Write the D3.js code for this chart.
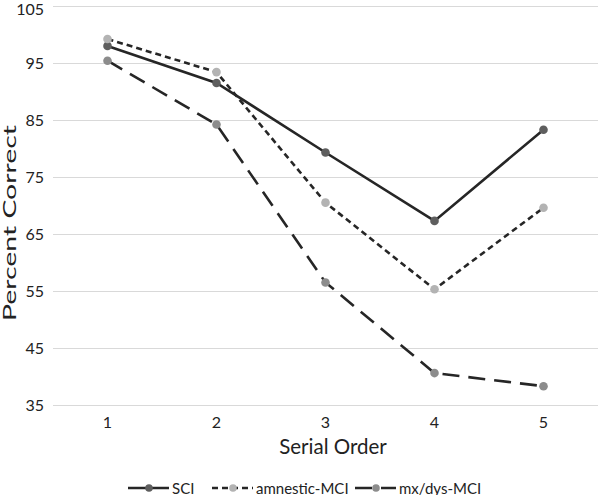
<!DOCTYPE html>
<html>
<head>
<meta charset="UTF-8">
<script src="https://d3js.org/d3.v7.min.js"></script>
<style>
  body { margin: 0; background: #fff; }
  text { font-family: Lato, "Open Sans", sans-serif; fill: #222; }
</style>
</head>
<body>
<svg id="chart"></svg>
<script>
  // data
  const orders = [1, 2, 3, 4, 5];
  const sci = [98.0, 91.5, 79.3, 67.3, 83.3];
  const amnestic = [99.2, 93.4, 70.5, 55.3, 69.6];
  const mxdys = [95.4, 84.2, 56.5, 40.6, 38.3];
  const yTicks = [35, 45, 55, 65, 75, 85, 95, 105];

  const series = [
    { name: "SCI", values: sci, dash: null, marker: "#5e5e5e" },
    { name: "amnestic-MCI", values: amnestic, dash: "6,4", marker: "#b3b3b3" },
    { name: "mx/dys-MCI", values: mxdys, dash: "17,9", marker: "#8c8c8c" }
  ];

  const width = 600, height = 495;
  const margins = { top: 6, right: 2, bottom: 90, left: 53 };

  const svg = d3.select("#chart").attr("width", width).attr("height", height);

  const xScale = d3.scaleBand().domain(orders)
                   .range([margins.left, width - margins.right]);
  const yScale = d3.scaleLinear().domain([35, 105])
                   .range([405, margins.top]);

  // grid lines
  const grid = d3.axisLeft(yScale).tickValues(yTicks).tickFormat("")
                 .tickSize(-(width - margins.right - margins.left));
  svg.append("g")
     .attr("transform", `translate(${margins.left},0)`)
     .call(grid)
     .call(g => g.select(".domain").remove())
     .call(g => g.selectAll("line").attr("stroke", "#d9d9d9").attr("stroke-width", 1.2));

  // y labels
  const leftAxis = d3.axisLeft(yScale).tickValues(yTicks).tickSize(0).tickPadding(9);
  svg.append("g")
     .attr("transform", `translate(${margins.left},0)`)
     .call(leftAxis)
     .call(g => g.select(".domain").remove())
     .call(g => g.selectAll("text").attr("font-size", 16).style("font-family", "Lato").attr("fill", "#222")
                 .attr("dy", d => d === 105 ? "0.5em" : "0.32em"));

  // x labels
  const bottomAxis = d3.axisBottom(xScale).tickSize(0).tickPadding(12);
  svg.append("g")
     .attr("transform", `translate(0,405)`)
     .call(bottomAxis)
     .call(g => g.select(".domain").remove())
     .call(g => g.selectAll("text").attr("font-size", 16).style("font-family", "Lato").attr("fill", "#222"));

  // axis titles
  svg.append("text")
     .attr("x", 333)
     .attr("y", 454)
     .attr("text-anchor", "middle")
     .attr("font-size", 20.5)
     .text("Serial Order");

  svg.append("text")
     .attr("transform", `translate(16,223) rotate(-90)`)
     .attr("text-anchor", "middle")
     .attr("font-size", 17)
     .attr("textLength", 196)
     .attr("lengthAdjust", "spacingAndGlyphs")
     .text("Percent Correct");

  // lines
  const cx = d => xScale(d) + xScale.bandwidth() / 2;
  const line = d3.line().x((d, i) => cx(orders[i])).y(d => yScale(d));

  series.forEach(s => {
    svg.append("path")
       .datum(s.values)
       .attr("d", line)
       .attr("fill", "none")
       .attr("stroke", "#262626")
       .attr("stroke-width", 2.6)
       .attr("stroke-dasharray", s.dash);
  });
  series.forEach(s => {
    svg.append("g").selectAll("circle")
       .data(s.values)
       .join("circle")
       .attr("cx", (d, i) => cx(orders[i]))
       .attr("cy", d => yScale(d))
       .attr("r", 4.3)
       .attr("fill", s.marker);
  });

  // legend
  const legendX = [128, 212, 355];
  const legend = svg.append("g");
  series.forEach((s, i) => {
    const g = legend.append("g").attr("transform", `translate(${legendX[i]},488)`);
    g.append("line")
     .attr("x1", 0).attr("x2", 41).attr("y1", 0).attr("y2", 0)
     .attr("stroke", "#262626").attr("stroke-width", 2.6)
     .attr("stroke-dasharray", s.dash);
    g.append("circle").attr("cx", 21).attr("cy", 0).attr("r", 3.8).attr("fill", s.marker);
    g.append("text").attr("x", 44).attr("y", 5.5)
     .attr("font-size", 15).text(s.name);
  });
</script>
</body>
</html>
